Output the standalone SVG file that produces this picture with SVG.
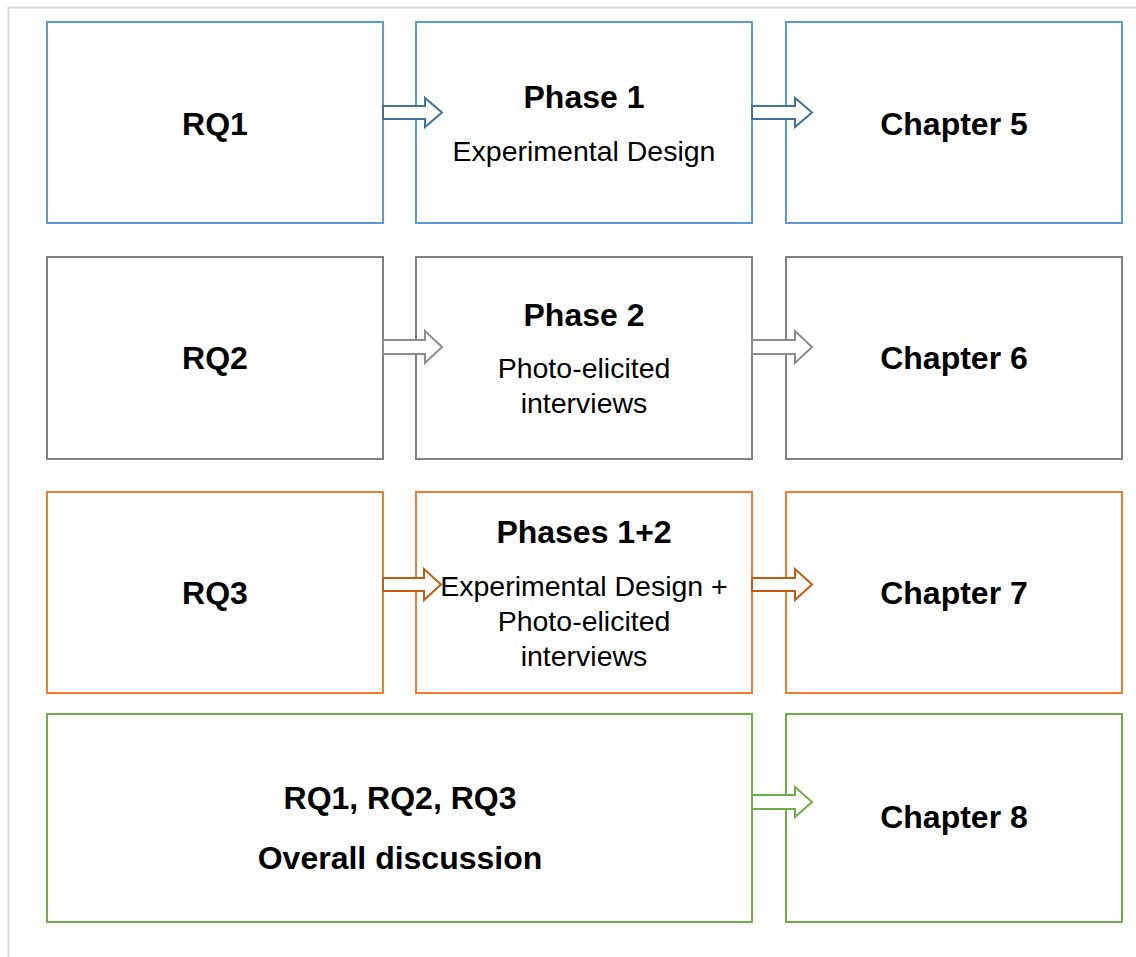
<svg xmlns="http://www.w3.org/2000/svg" width="1136" height="957" viewBox="0 0 1136 957">
<style>
.box{fill:#fff;stroke-width:2}
.b{stroke:#5B9BD5}.g{stroke:#7F7F7F}.o{stroke:#ED7D31}.gr{stroke:#70AD47}
.arr{fill:#fff;stroke-width:2;stroke-linejoin:miter}
.t{font-family:"Liberation Sans",Arial,sans-serif;fill:#000;text-anchor:middle}
.h{font-weight:bold;font-size:32px}
.s{font-size:28.5px}
</style>
<rect width="1136" height="957" fill="#fff"/>
<path d="M8.5 957V7.5H1136" fill="none" stroke="#D9D9D9" stroke-width="2"/>
<g id="rq1"><rect class="box b" x="47" y="22" width="336" height="201"/><text class="t h" x="215" y="135">RQ1</text></g>
<g id="phase1"><rect class="box b" x="416" y="22" width="336" height="201"/><text class="t h" x="584" y="108">Phase 1</text><text class="t s" x="584" y="161">Experimental Design</text></g>
<g id="ch5"><rect class="box b" x="786" y="22" width="336" height="201"/><text class="t h" x="954" y="135">Chapter 5</text></g>
<g id="rq2"><rect class="box g" x="47" y="257" width="336" height="202"/><text class="t h" x="215" y="369">RQ2</text></g>
<g id="phase2"><rect class="box g" x="416" y="257" width="336" height="202"/><text class="t h" x="584" y="326">Phase 2</text><text class="t s" x="584" y="378">Photo-elicited</text><text class="t s" x="584" y="413">interviews</text></g>
<g id="ch6"><rect class="box g" x="786" y="257" width="336" height="202"/><text class="t h" x="954" y="369">Chapter 6</text></g>
<g id="rq3"><rect class="box o" x="47" y="492" width="336" height="201"/><text class="t h" x="215" y="604">RQ3</text></g>
<g id="phase12"><rect class="box o" x="416" y="492" width="336" height="201"/><text class="t h" x="584" y="543">Phases 1+2</text><text class="t s" x="584" y="596">Experimental Design +</text><text class="t s" x="584" y="631">Photo-elicited</text><text class="t s" x="584" y="666">interviews</text></g>
<g id="ch7"><rect class="box o" x="786" y="492" width="336" height="201"/><text class="t h" x="954" y="604">Chapter 7</text></g>
<g id="overall"><rect class="box gr" x="47" y="714" width="705" height="208"/><text class="t h" x="400" y="809">RQ1, RQ2, RQ3</text><text class="t h" x="400" y="869">Overall discussion</text></g>
<g id="ch8"><rect class="box gr" x="786" y="714" width="336" height="208"/><text class="t h" x="954" y="828">Chapter 8</text></g>
<g id="connectors">
<path class="arr" stroke="#41719C" d="M383 106H425V98L442 112.5L425 127V119H383Z"/>
<path class="arr" stroke="#41719C" d="M752 106H795V98L812 112.5L795 127V119H752Z"/>
<path class="arr" stroke="#8C8C8C" d="M383 340H425V331L442 347L425 363V354H383Z"/>
<path class="arr" stroke="#8C8C8C" d="M752 340H795V331L812 347L795 363V354H752Z"/>
<path class="arr" stroke="#C55A11" d="M383 578H424V569L441 584.5L424 600V591H383Z"/>
<path class="arr" stroke="#C55A11" d="M752 578H795V569L812 584.5L795 600V591H752Z"/>
<path class="arr" stroke="#70AD47" d="M752 795H795V787L812 802L795 817V809H752Z"/>
</g>
</svg>
